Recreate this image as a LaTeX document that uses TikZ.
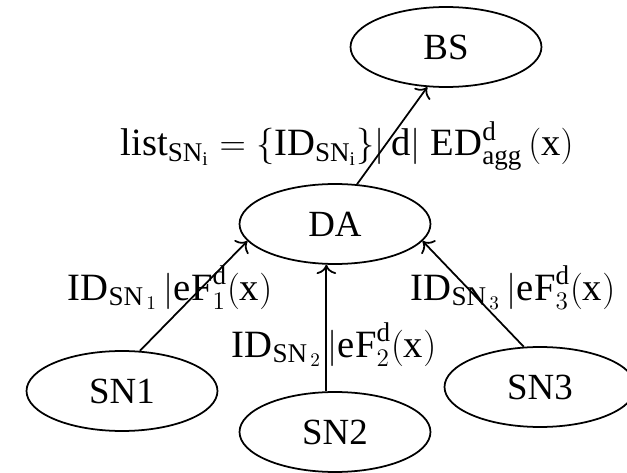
\documentclass[tikz,border=0pt]{standalone}
\usepackage{fontspec}
\setmainfont{Liberation Serif}
\usetikzlibrary{arrows.meta, positioning, calc, shapes.geometric}

\begin{document}
\begin{tikzpicture}[x=0.02cm, y=-0.02cm,
  unit/.style={draw, ellipse, line width=1pt, minimum width=3.82cm,
    minimum height=1.6cm, inner sep=0pt, font=\fontsize{21}{24}\selectfont},
  msg/.style={font=\fontsize{22}{26}\selectfont, inner sep=0pt},
  link/.style={-{To[scale=1.4]}, line width=1pt}]
  \useasboundingbox (0,0) rectangle (627,473);

  % nodes
  \node[unit] (bs) at (446,47) {BS};
  \node[unit] (da) at (335,224) {DA};
  \node[unit] (sn1) at (122,391) {SN1};
  \node[unit] (sn2) at (335,432) {SN2};
  \node[unit] (sn3) at (540,387) {SN3};

  % links
  \draw[link] (da.61) -- (bs.245);
  \draw[link] (sn1.66) -- (da.191);
  \draw[link] (sn2.102) -- (da.258);
  \draw[link] (sn3.112) -- (da.349);

  % messages
  \node[msg] (mbs) at (347,146)
    {$\mathrm{list}_{\mathrm{SN}_{\mathrm{i}}}=\{\mathrm{ID}_{\mathrm{SN}_{\mathrm{i}}}\}|\,\mathrm{d}|\;\mathrm{ED}^{\mathrm{d}}_{\mathrm{agg}}\,(\mathrm{x})$};
  \node[msg] (m1) at (170,288)
    {$\mathrm{ID}_{\mathrm{SN}_{\,1}}\,|\mathrm{eF}^{\mathrm{d}}_1(\mathrm{x})$};
  \node[msg] (m2) at (334,345)
    {$\mathrm{ID}_{\mathrm{SN}_{\,2}}\,|\mathrm{eF}^{\mathrm{d}}_2(\mathrm{x})$};
  \node[msg] (m3) at (513,288)
    {$\mathrm{ID}_{\mathrm{SN}_{\,3}}\,|\mathrm{eF}^{\mathrm{d}}_3(\mathrm{x})$};
\end{tikzpicture}
\end{document}
